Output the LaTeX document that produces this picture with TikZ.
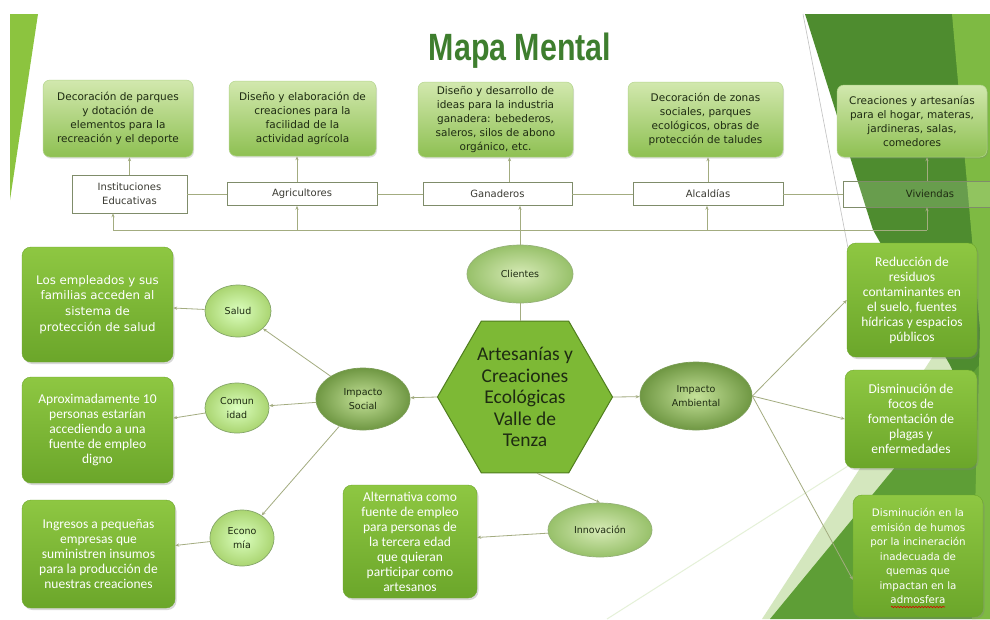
\documentclass[tikz,border=0pt]{standalone}
\usepackage{fontspec}
\setmainfont{Carlito}
\newfontfamily\tahoma{DejaVu Sans}
\newfontfamily\headfont[FakeStretch=0.8]{Liberation Sans}
\usepackage{tikz}
\usetikzlibrary{shapes.geometric,arrows.meta,shadows,decorations.pathmorphing}

\definecolor{linkgray}{HTML}{A3AC80}
\definecolor{darktext}{HTML}{1E2B12}
\definecolor{greytext}{HTML}{3A3A32}
\definecolor{titlegreen}{HTML}{3E7E2E}
\definecolor{topA}{HTML}{D2E8AE}
\definecolor{topB}{HTML}{8EC052}
\definecolor{topedge}{HTML}{B3D58D}
\definecolor{brightA}{HTML}{8EC742}
\definecolor{brightB}{HTML}{6BA62A}
\definecolor{clientedge}{HTML}{7F8C6A}
\definecolor{hexfill}{HTML}{7DB935}
\definecolor{hexedge}{HTML}{4F7D1E}
\definecolor{leafgreen}{HTML}{8CC43F}
\definecolor{darkfacet}{HTML}{4E8C2F}
\definecolor{midfacet}{HTML}{5E9E36}
\definecolor{stripfacet}{HTML}{7EBA43}
\definecolor{palefacet}{HTML}{D4E7BE}

\tikzset{
  link/.style={draw=linkgray, line width=0.8pt},
  arr/.style={link, -{Stealth[length=4pt,width=3.2pt]}},
  topdesc/.style={rectangle, rounded corners=7pt, draw=topedge, line width=0.5pt,
    top color=topA, bottom color=topB, text=darktext, align=center, inner sep=0pt,
    font=\tahoma\fontsize{10.5}{14}\selectfont,
    drop shadow={opacity=0.25, shadow xshift=1pt, shadow yshift=-1.5pt}},
  client/.style={rectangle, draw=clientedge, line width=0.6pt, fill=white,
    fill opacity=0.15, text opacity=1, text=greytext, align=center, inner sep=0pt,
    minimum height=23pt, font=\tahoma\fontsize{10}{14}\selectfont},
  effect/.style={rectangle, rounded corners=9pt, top color=brightA, bottom color=brightB,
    draw=brightB, line width=0.4pt, text=white, align=center, inner sep=0pt,
    font=\fontsize{13.5}{15}\selectfont,
    drop shadow={opacity=0.3, shadow xshift=1.5pt, shadow yshift=-2pt}},
  bubble/.style={ellipse, inner sep=0pt, align=center, text=darktext, line width=0.7pt,
    font=\tahoma\fontsize{9.5}{14}\selectfont},
  subbubble/.style={bubble, draw=black!10!linkgray!90!green, inner color=green!12!white!85!lime,
    outer color=brightA!75!white},
  midbubble/.style={bubble, draw=hexedge!60!white, inner color=topA!90!white,
    outer color=brightB!70!white},
  impact/.style={bubble, draw=hexedge!75!white, inner color=topA!80!brightA,
    outer color=brightB!80!black!85!white},
  hub/.style={regular polygon, regular polygon sides=6, minimum size=175pt, inner sep=0pt,
    fill=hexfill, draw=hexedge, line width=1pt, text=darktext, align=center,
    font=\fontsize{19.5}{21.5}\selectfont},
}

\begin{document}
\begin{tikzpicture}[x=1pt, y=-1pt]
  \useasboundingbox (0,0) rectangle (990,619);
  \clip (0,0) rectangle (990,619);
  \fill[white] (0,0) rectangle (990,619);

  % slide facets
  \fill[leafgreen] (10,14) -- (38,14) -- (10,200) -- cycle;
  \fill[palefacet] (762,619) -- (950,330) -- (990,330) -- (990,619) -- cycle;
  \fill[darkfacet] (805,14) -- (990,14) -- (990,450) -- (950,365) -- (873,230) -- cycle;
  \fill[midfacet] (770,619) -- (990,352) -- (990,619) -- cycle;
  \fill[stripfacet] (952,14) -- (990,14) -- (990,619) -- (972,619) -- (980,330) -- cycle;
  \draw[black!25, line width=0.6pt] (803,14) -- (858,300);
  \draw[palefacet!60!white, line width=1pt] (607,619) -- (870,452);

  \node[font=\headfont\bfseries\fontsize{38}{40}\selectfont, text=titlegreen, anchor=base]
    (titulo) at (520,60) {Mapa Mental};

  % clientes
  \node[topdesc, minimum width=150pt, minimum height=77pt] (decoparques) at (118,118.5)
    {Decoración de parques\\ y dotación de\\ elementos para la\\ recreación y el deporte};
  \node[topdesc, minimum width=147pt, minimum height=75pt] (disenoagro) at (302.5,118.5)
    {Diseño y elaboración de\\ creaciones para la\\ facilidad de la\\ actividad agrícola};
  \node[topdesc, minimum width=155pt, minimum height=75pt] (disenogan) at (495.5,119.5)
    {Diseño y desarrollo de\\ ideas para la industria\\ ganadera: bebederos,\\ saleros, silos de abono\\ orgánico, etc.};
  \node[topdesc, minimum width=155pt, minimum height=75pt] (decozonas) at (705.5,119.5)
    {Decoración de zonas\\ sociales, parques\\ ecológicos, obras de\\ protección de taludes};
  \node[topdesc, minimum width=150pt, minimum height=72pt] (hogar) at (912,121)
    {Creaciones y artesanías\\ para el hogar, materas,\\ jardineras, salas,\\ comedores};

  \node[client, minimum width=115pt, minimum height=38pt] (instituciones) at (129.5,194)
    {Instituciones\\ Educativas};
  \node[client, minimum width=150pt] (agricultores) at (302,194) {Agricultores};
  \node[client, minimum width=149pt] (ganaderos) at (497.5,194) {Ganaderos};
  \node[client, minimum width=150pt] (alcaldias) at (708,194) {Alcaldías};
  \node[client, minimum width=174pt, minimum height=26pt, text=darktext] (viviendas) at (930,194)
    {Viviendas};

  \coordinate (bus1) at (113,230);
  \coordinate (bus2) at (297,230);
  \coordinate (bus3) at (520,230);
  \coordinate (bus4) at (707,230);
  \coordinate (bus5) at (927,230);

  % centro
  \node[midbubble, minimum width=106pt, minimum height=58pt] (clientes) at (520,274) {Clientes};
  \node[hub] (centro) at (525,397)
    {Artesanías y\\ Creaciones\\ Ecológicas\\ Valle de\\ Tenza};
  \node[impact, minimum width=94pt, minimum height=62pt] (social) at (363,399) {Impacto\\ Social};
  \node[impact, minimum width=112pt, minimum height=68pt] (ambiental) at (696,396)
    {Impacto\\ Ambiental};
  \node[midbubble, minimum width=104pt, minimum height=54pt] (innovacion) at (600,530)
    {Innovación};

  % impacto social
  \node[subbubble, minimum width=66pt, minimum height=52pt] (salud) at (238,311) {Salud};
  \node[subbubble, minimum width=64pt, minimum height=50pt] (comunidad) at (237,408) {Comun\\ idad};
  \node[subbubble, minimum width=64pt, minimum height=56pt] (economia) at (242,538) {Econo\\ mía};

  \node[effect, minimum width=151pt, minimum height=115pt, font=\tahoma\fontsize{11.8}{15.6}\selectfont]
    (empleados) at (97.5,304.5)
    {Los empleados y sus\\ familias acceden al\\ sistema de\\ protección de salud};
  \node[effect, minimum width=151pt, minimum height=106pt] (empleo) at (97.5,430)
    {Aproximadamente 10\\ personas estarían\\ accediendo a una\\ fuente de empleo\\ digno};
  \node[effect, minimum width=153pt, minimum height=108pt] (ingresos) at (98.5,554)
    {Ingresos a pequeñas\\ empresas que\\ suministren insumos\\ para la producción de\\ nuestras creaciones};
  \node[effect, minimum width=134pt, minimum height=113pt] (alternativa) at (410,541.5)
    {Alternativa como\\ fuente de empleo\\ para personas de\\ la tercera edad\\ que quieran\\ participar como\\ artesanos};

  % impacto ambiental
  \node[effect, minimum width=130pt, minimum height=114pt] (residuos) at (912,300)
    {Reducción de\\ residuos\\ contaminantes en\\ el suelo, fuentes\\ hídricas y espacios\\ públicos};
  \node[effect, minimum width=132pt, minimum height=98pt] (plagas) at (911,419)
    {Disminución de\\ focos de\\ fomentación de\\ plagas y\\ enfermedades};
  \node[effect, minimum width=130pt, minimum height=122pt, font=\tahoma\fontsize{10.3}{14.5}\selectfont]
    (humos) at (918,556)
    {Disminución en la\\ emisión de humos\\ por la incineración\\ inadecuada de\\ quemas que\\ impactan en la\\ admosfera};
  \draw[red!85!black, line width=0.6pt, decorate,
    decoration={snake, amplitude=0.7pt, segment length=3pt}] (891,607) -- (945,607);

  % conectores
  \draw[link] (bus1) -- (bus5);
  \draw[link] (clientes) -- (bus3);
  \draw[arr] (bus1) -- (bus1 |- instituciones.south);
  \draw[arr] (bus2) -- (bus2 |- agricultores.south);
  \draw[arr] (bus3) -- (bus3 |- ganaderos.south);
  \draw[arr] (bus4) -- (bus4 |- alcaldias.south);
  \draw[arr] (bus5) -- (bus5 |- viviendas.south);
  \draw[link] (instituciones) -- (agricultores);
  \draw[link] (agricultores) -- (ganaderos);
  \draw[link] (ganaderos) -- (alcaldias);
  \draw[link] (alcaldias) -- (viviendas);
  \draw[arr] (instituciones.north) -- (instituciones.north |- decoparques.south);
  \draw[arr] (bus2 |- agricultores.north) -- (bus2 |- disenoagro.south);
  \draw[arr] ([xshift=12pt]ganaderos.north) -- ([xshift=12pt]ganaderos.north |- disenogan.south);
  \draw[arr] (alcaldias.north) -- (alcaldias.north |- decozonas.south);
  \draw[arr] (bus5 |- viviendas.north) -- (bus5 |- hogar.south);

  \draw[link] (clientes) -- (clientes.south |- centro.north);
  \draw[arr] (centro.west) -- (social);
  \draw[arr] (centro.east) -- (ambiental);
  \draw[arr] ([xshift=12pt]centro.south) -- (innovacion.north);
  \draw[arr] (innovacion) -- (alternativa);
  \draw[arr] (social) -- (salud);
  \draw[arr] (social) -- (comunidad);
  \draw[arr] (social) -- (economia);
  \draw[arr] (salud) -- (empleados);
  \draw[arr] (comunidad) -- (empleo);
  \draw[arr] (economia) -- (ingresos);
  \draw[arr] (ambiental.east) -- (residuos.west);
  \draw[arr] (ambiental.east) -- (plagas.west);
  \draw[arr] (ambiental.east) -- (humos.200);
\end{tikzpicture}
\end{document}
